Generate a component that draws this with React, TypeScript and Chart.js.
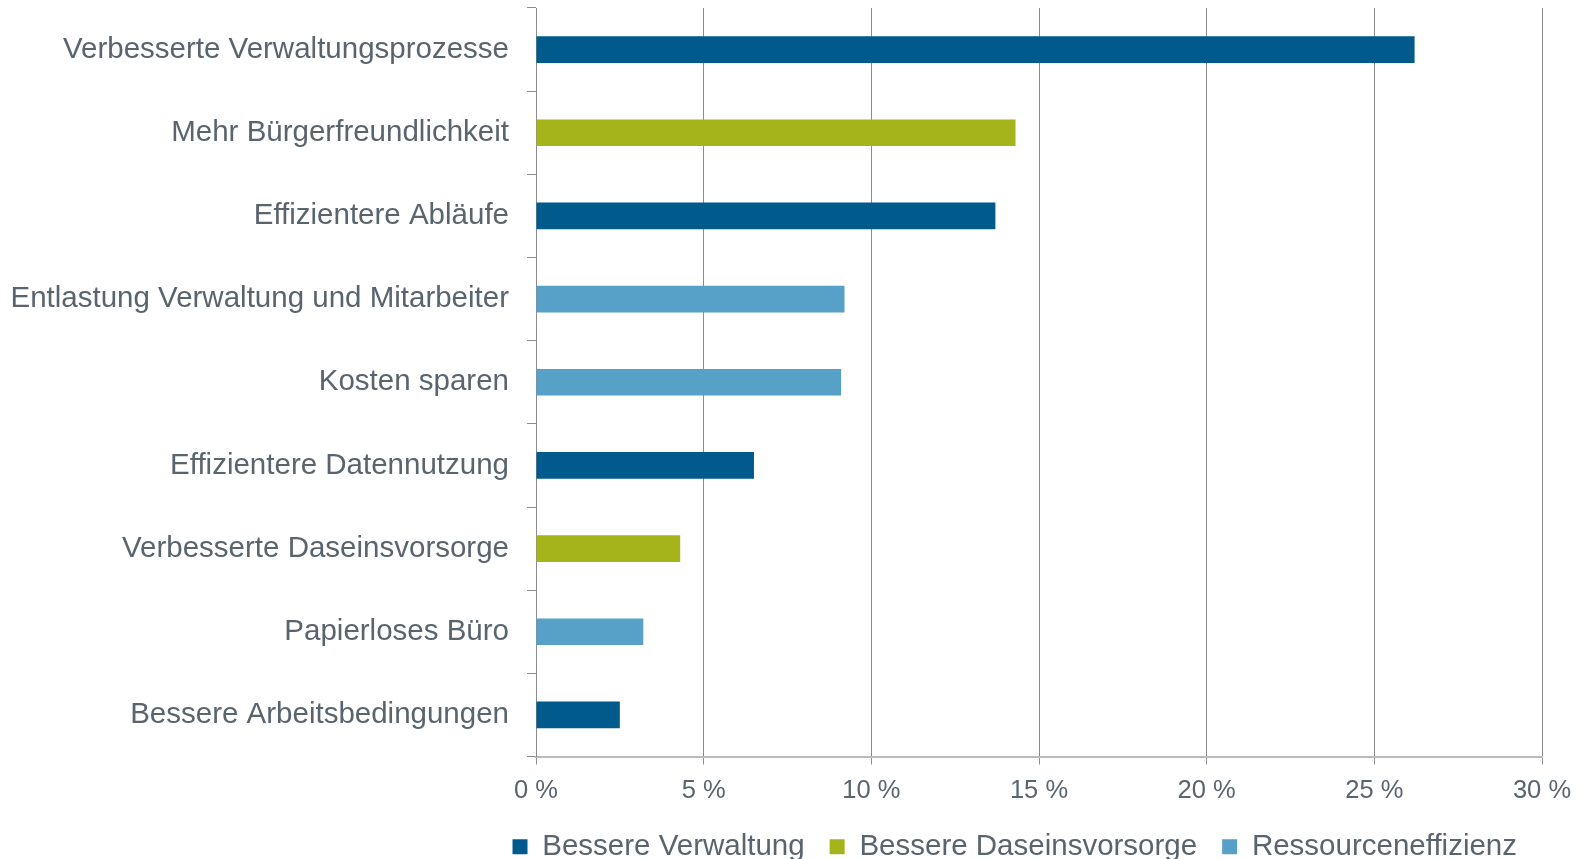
import React, { useEffect, useRef } from "react";
import { Chart, registerables } from "chart.js";

Chart.register(...registerables);

const categories = [
  "Verbesserte Verwaltungsprozesse",
  "Mehr Bürgerfreundlichkeit",
  "Effizientere Abläufe",
  "Entlastung Verwaltung und Mitarbeiter",
  "Kosten sparen",
  "Effizientere Datennutzung",
  "Verbesserte Daseinsvorsorge",
  "Papierloses Büro",
  "Bessere Arbeitsbedingungen",
];

const seriesNames = ["Bessere Verwaltung", "Bessere Daseinsvorsorge", "Ressourceneffizienz"];

const besserVerwaltung = [26.2, null, 13.7, null, null, 6.5, null, null, 2.5];
const besserDaseinsvorsorge = [null, 14.3, null, null, null, null, 4.3, null, null];
const ressourceneffizienz = [null, null, null, 9.2, 9.1, null, null, 3.2, null];

const xTicks = [0, 5, 10, 15, 20, 25, 30];

const colors = ["#005A8C", "#A5B41A", "#57A0C8"];
const textColor = "#5A646E";
const FONT = "'Liberation Sans', Arial, sans-serif";

export default function App() {
  const ref = useRef<HTMLCanvasElement | null>(null);

  useEffect(() => {
    document.body.style.margin = "0";
    const canvas = ref.current;
    if (!canvas) return;
    const seriesData = [besserVerwaltung, besserDaseinsvorsorge, ressourceneffizienz];
    const chart = new Chart(canvas, {
      type: "bar",
      data: {
        labels: categories,
        datasets: seriesNames.map((name, i) => ({
          label: name,
          data: seriesData[i] as any,
          backgroundColor: colors[i],
          borderWidth: 0,
          grouped: false,
          barPercentage: 0.32,
          categoryPercentage: 1,
        })),
      },
      options: {
        indexAxis: "y",
        animation: false,
        responsive: false,
        maintainAspectRatio: false,
        layout: { padding: { left: 0, right: 48, top: 8, bottom: -12.4 } },
        plugins: {
          tooltip: { enabled: false },
          legend: {
            position: "bottom",
            align: "end",
            labels: {
              color: textColor,
              font: { family: FONT, size: 29.5 },
              boxWidth: 15,
              boxHeight: 15,
              padding: 25,
            },
          },
        },
        scales: {
          x: {
            type: "linear",
            min: 0,
            max: 30,
            clip: false,
            afterBuildTicks: (scale: any) => {
              scale.ticks = xTicks.map((v) => ({ value: v }));
            },
            afterFit: (scale: any) => {
              scale.height = 50.4;
              scale.paddingTop = 0;
              scale.paddingBottom = 0;
            },
            ticks: {
              color: textColor,
              font: { family: FONT, size: 25.5 },
              padding: 11.5,
              callback: (v: any) => `${v} %`,
            },
            grid: { color: "#8C8C8C", lineWidth: 1, tickLength: 8 },
            border: { color: "#BBBBBB", width: 2 },
          },
          y: {
            type: "category",
            afterFit: (scale: any) => {
              scale.width = 536;
              scale.paddingTop = 0;
              scale.paddingBottom = 0;
            },
            ticks: {
              color: textColor,
              font: { family: FONT, size: 29.5 },
              padding: 18,
            },
            grid: { drawOnChartArea: false, offset: true, tickLength: 9, color: "#8C8C8C" },
            border: { color: "#8C8C8C", width: 1 },
          },
        },
      },
    } as any);
    return () => chart.destroy();
  }, []);

  return (
    <div style={{ position: "absolute", left: 0, top: 0, width: 1590, height: 859 }}>
      <canvas ref={ref} width={1590} height={859} style={{ display: "block" }} />
    </div>
  );
}
